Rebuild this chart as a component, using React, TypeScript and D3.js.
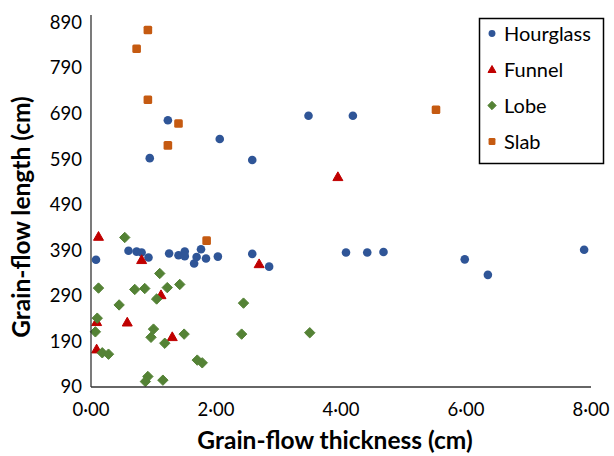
import * as d3 from 'd3';

// Grain-flow thickness (cm) vs length (cm)
const hourglassX = [1.23, 2.06, 0.94, 2.58, 3.48, 4.19, 4.08, 4.42, 4.68, 5.98, 6.35, 7.89, 0.08, 0.60, 0.73, 0.81, 0.92, 1.25, 1.40, 1.50, 1.50, 1.65, 1.69, 1.76, 1.84, 2.03, 2.58, 2.85];
const hourglassY = [675, 634, 592, 588, 685, 685, 385, 385, 386, 370, 336, 391, 369, 389, 387, 385, 374, 383, 379, 387, 377, 361, 375, 392, 372, 376, 382, 354];
const funnelX = [0.12, 0.81, 1.12, 0.09, 0.58, 1.30, 0.09, 2.69, 3.95];
const funnelY = [420, 369, 292, 233, 232, 200, 173, 360, 551];
const lobeX = [0.54, 1.10, 0.12, 0.70, 0.86, 1.22, 1.42, 1.05, 0.45, 0.10, 0.07, 1.00, 0.96, 1.49, 1.18, 0.18, 0.28, 1.70, 1.78, 0.91, 0.87, 1.15, 2.44, 2.41, 3.50];
const lobeY = [418, 339, 307, 304, 306, 308, 315, 283, 270, 241, 211, 217, 199, 206, 186, 165, 162, 149, 143, 113, 102, 105, 274, 206, 209];
const slabX = [0.91, 0.73, 0.91, 1.40, 1.23, 1.85, 5.52];
const slabY = [873, 832, 720, 668, 620, 411, 698];

const xTicks = [0, 2, 4, 6, 8];
const yTicks = [90, 190, 290, 390, 490, 590, 690, 790, 890];

const series = [
  { name: 'Hourglass', xs: hourglassX, ys: hourglassY, color: '#2f5597', shape: 'circle' },
  { name: 'Funnel', xs: funnelX, ys: funnelY, color: '#c00000', shape: 'triangle' },
  { name: 'Lobe', xs: lobeX, ys: lobeY, color: '#548235', shape: 'diamond' },
  { name: 'Slab', xs: slabX, ys: slabY, color: '#c55a11', shape: 'square' },
];

const W = 614;
const H = 456;
const font = 'Lato, "Open Sans", sans-serif';

function Marker({ shape, color, x, y, s = 1 }: { shape: string; color: string; x: number; y: number; s?: number }) {
  if (shape === 'circle') return <circle cx={x} cy={y} r={4.3 * s} fill={color} />;
  if (shape === 'square') {
    const h = 4.3 * s;
    return <rect x={x - h} y={y - h} width={2 * h} height={2 * h} rx={1.5 * s} fill={color} />;
  }
  if (shape === 'diamond') {
    const h = 5.2 * s;
    return <path d={`M${x},${y - h}L${x + h},${y}L${x},${y + h}L${x - h},${y}Z`} fill={color} stroke={color} strokeWidth={1} strokeLinejoin="round" />;
  }
  const h = 5 * s;
  return <path d={`M${x},${y - h}L${x + h},${y + h * 0.75}L${x - h},${y + h * 0.75}Z`} fill={color} stroke={color} strokeWidth={1} strokeLinejoin="round" />;
}

export default function App() {
  const x = d3.scaleLinear().domain([0, 8]).range([91, 591]);
  const y = d3.scaleLinear().domain([90, 906]).range([387, 15]);
  const axisColor = '#333';

  return (
    <svg width={W} height={H} style={{ position: 'absolute', left: 0, top: 0, background: '#fff' }} fontFamily={font}>
      {/* points */}
      {series.map(s => (
        <g key={s.name}>
          {s.xs.map((v, i) => (
            <Marker key={i} shape={s.shape} color={s.color} x={x(v)} y={y(s.ys[i])} />
          ))}
        </g>
      ))}
      {/* axes */}
      <line x1={x(0)} x2={x(0)} y1={y(906)} y2={y(90)} stroke={axisColor} strokeWidth={1.3} />
      <line x1={x(0)} x2={x(8)} y1={y(90)} y2={y(90)} stroke={axisColor} strokeWidth={1.3} />
      {yTicks.map(t => (
        <text key={t} x={82} y={y(t)} dy="0.35em" textAnchor="end" fontSize={18.5} fill="#000">{t}</text>
      ))}
      {xTicks.map(t => (
        <text key={t} x={x(t)} y={410} dy="0.35em" textAnchor="middle" fontSize={18.5} fill="#000">{t.toFixed(2).replace('.', '·')}</text>
      ))}
      <text x={335} y={440} dy="0.35em" textAnchor="middle" fontSize={24.5} fontWeight={700} fill="#000">Grain-flow thickness (cm)</text>
      <text transform={`translate(21,217) rotate(-90)`} dy="0.35em" textAnchor="middle" fontSize={24.5} fontWeight={700} fill="#000">Grain-flow length (cm)</text>
      {/* legend */}
      <rect x={479.5} y={18.5} width={124} height={145} fill="#fff" stroke="#000" strokeWidth={1.5} />
      {series.map((s, i) => (
        <g key={s.name}>
          <Marker shape={s.shape} color={s.color} x={492} y={33.5 + i * 36} s={0.8} />
          <text x={504} y={33.5 + i * 36} dy="0.35em" fontSize={20} fill="#000">{s.name}</text>
        </g>
      ))}
    </svg>
  );
}
